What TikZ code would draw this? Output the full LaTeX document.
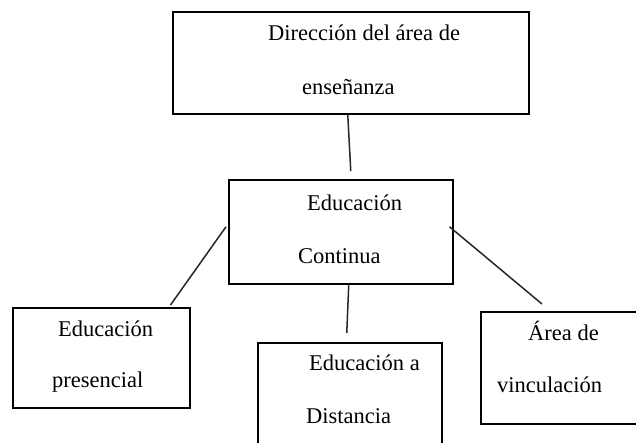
\documentclass[tikz,border=0pt]{standalone}
\usepackage{fontspec}
\setmainfont{Liberation Serif}
\usetikzlibrary{calc}
\begin{document}
\begin{tikzpicture}[x=1pt,y=-1pt,
  box/.style={draw=black, line width=1.5pt, rectangle, anchor=north west, inner sep=0pt},
  lbl/.style={anchor=base west, inner sep=0pt, font=\fontsize{22.5}{27}\selectfont, text=black},
  conn/.style={draw=black!85, line width=1.5pt}]
\useasboundingbox (0,0) rectangle (636,442);
\clip (0,0) rectangle (636,442);
\fill[white] (0,0) rectangle (636,442);
% boxes
\node[box, minimum width=356pt, minimum height=102pt] (top) at (172,11) {};
\node[box, minimum width=224pt, minimum height=104pt] (cont) at (228,179) {};
\node[box, minimum width=177pt, minimum height=100pt] (pres) at (12,307) {};
\node[box, minimum width=184pt, minimum height=110pt] (dist) at (257,342) {};
\node[box, minimum width=170pt, minimum height=112pt] (vinc) at (480,311) {};
% labels
\node[lbl] (t1) at (268,40) {Dirección del área de};
\node[lbl] (t2) at (302,94) {enseñanza};
\node[lbl] (c1) at (307,210) {Educación};
\node[lbl] (c2) at (298,263) {Continua};
\node[lbl] (p1) at (58,336) {Educación};
\node[lbl] (p2) at (52,387) {presencial};
\node[lbl] (d1) at (309,370) {Educación a};
\node[lbl] (d2) at (306,423) {Distancia};
\node[lbl] (v1) at (528,340) {Área de};
\node[lbl] (v2) at (497,392) {vinculación};
% connectors
\draw[conn] ([shift={(-3,0)}]top.south) -- ([shift={(10,-8)}]cont.north);
\draw[conn] ([shift={(8,0)}]cont.south) -- ([shift={(-3,-9)}]dist.north);
\draw[conn] ([shift={(-2,-5)}]cont.west) -- ([shift={(-20,-2)}]pres.north east);
\draw[conn] ([shift={(-4,-5)}]cont.east) -- ([shift={(62,-7)}]vinc.north west);
\end{tikzpicture}
\end{document}
